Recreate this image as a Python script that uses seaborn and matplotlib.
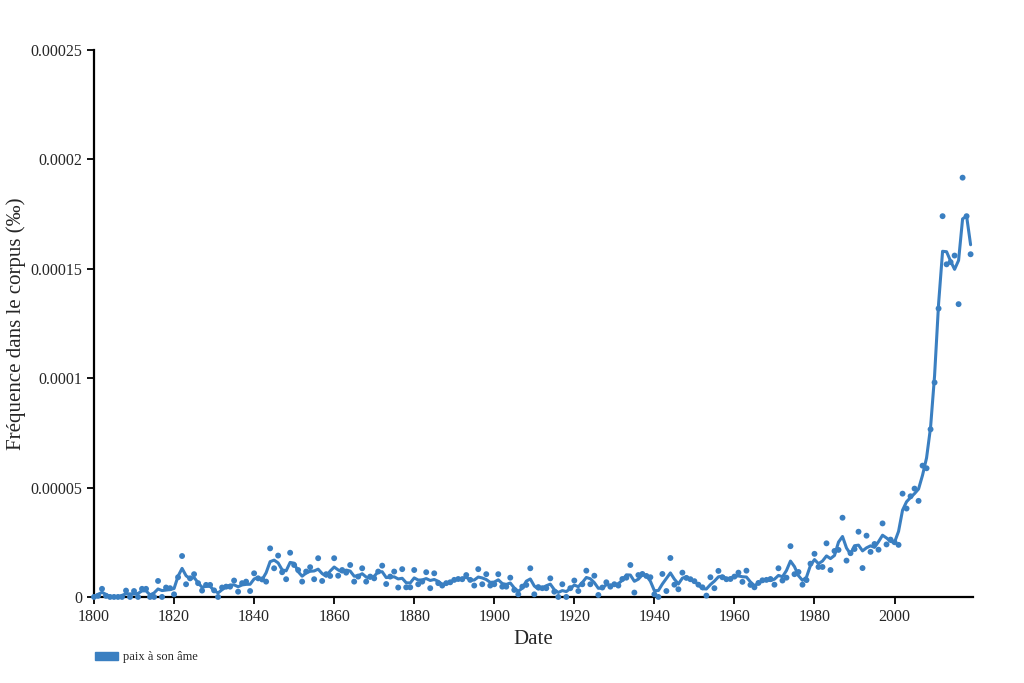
import numpy as np
import pandas as pd
import matplotlib
matplotlib.use('Agg')
import matplotlib.pyplot as plt
import seaborn as sns
from matplotlib.patches import Patch

# Fréquence annuelle de "paix à son âme" (en unités de 1e-5 ‰), 1800 -> 2019
years = list(range(1800, 2020))
freq_e5 = [
    0, 0.05, 0.37, 0.05, 0, 0, 0, 0, 0.29, 0,                    # 1800s
    0.27, 0, 0.37, 0.37, 0, 0, 0.73, 0, 0.43, 0.40,              # 1810s
    0.12, 0.90, 1.87, 0.58, 0.85, 1.04, 0.63, 0.29, 0.55, 0.55,  # 1820s
    0.30, 0, 0.43, 0.47, 0.47, 0.75, 0.24, 0.63, 0.70, 0.27,     # 1830s
    1.08, 0.85, 0.80, 0.70, 2.22, 1.31, 1.89, 1.13, 0.81, 2.02,  # 1840s
    1.46, 1.23, 0.70, 1.16, 1.36, 0.81, 1.77, 0.73, 1.04, 0.96,  # 1850s
    1.77, 0.97, 1.23, 1.11, 1.46, 0.70, 0.93, 1.31, 0.70, 0.93,  # 1860s
    0.85, 1.16, 1.43, 0.59, 0.93, 1.16, 0.43, 1.27, 0.44, 0.44,  # 1870s
    1.23, 0.58, 0.70, 1.13, 0.40, 1.08, 0.63, 0.52, 0.63, 0.67,  # 1880s
    0.78, 0.82, 0.81, 1.00, 0.78, 0.52, 1.27, 0.58, 1.04, 0.52,  # 1890s
    0.58, 1.04, 0.47, 0.47, 0.88, 0.32, 0.12, 0.47, 0.55, 1.31,  # 1900s
    0.12, 0.45, 0.40, 0.40, 0.85, 0.24, 0, 0.58, 0, 0.40,        # 1910s
    0.75, 0.27, 0.58, 1.20, 0.58, 0.97, 0.09, 0.43, 0.67, 0.47,  # 1920s
    0.58, 0.52, 0.82, 0.88, 1.46, 0.20, 1.00, 1.05, 0.96, 0.90,  # 1930s
    0.12, 0, 1.05, 0.27, 1.78, 0.56, 0.35, 1.11, 0.87, 0.81,     # 1940s
    0.72, 0.56, 0.44, 0.06, 0.90, 0.40, 1.19, 0.90, 0.81, 0.82,  # 1950s
    0.93, 1.11, 0.69, 1.20, 0.55, 0.44, 0.64, 0.76, 0.78, 0.82,  # 1960s
    0.56, 1.31, 0.75, 0.88, 2.32, 1.04, 1.14, 0.56, 0.77, 1.52,  # 1970s
    1.97, 1.37, 1.37, 2.45, 1.23, 2.10, 2.15, 3.62, 1.66, 2.00,  # 1980s
    2.19, 2.98, 1.32, 2.80, 2.06, 2.42, 2.16, 3.36, 2.40, 2.62,  # 1990s
    2.50, 2.38, 4.72, 4.04, 4.60, 4.95, 4.39, 6.00, 5.88, 7.66,  # 2000s
    9.80, 13.18, 17.40, 15.20, 15.30, 15.60, 13.38, 19.16, 17.40, 15.66,  # 2010s
]

y_ticks = [0, 0.00005, 0.0001, 0.00015, 0.0002, 0.00025]
y_tick_labels = ['0', '0.00005', '0.0001', '0.00015', '0.0002', '0.00025']
x_ticks = list(range(1800, 2001, 20))
label = 'paix à son âme'
color = '#3a7fc1'

df = pd.DataFrame({'Date': years, 'Frequence': np.array(freq_e5) * 1e-5})
# courbe lissée : moyenne pondérée (1-2-1) sur les années voisines
s = df['Frequence']
prev = s.shift(1).fillna(s)
nxt = s.shift(-1).fillna(s)
df['Lisse'] = (prev + 2 * s + nxt) / 4

sns.set_style('ticks')
plt.rcParams['font.family'] = ['Liberation Serif', 'DejaVu Serif']

fig = plt.figure(figsize=(10.24, 6.83), dpi=100)
ax = fig.add_axes([0.0918, 0.126, 0.858, 0.801])

sns.lineplot(data=df, x='Date', y='Lisse', color=color, linewidth=2.2, ax=ax)
sns.scatterplot(data=df, x='Date', y='Frequence', color=color, s=18,
                edgecolor='none', ax=ax, zorder=3, clip_on=False)

ax.set_xlim(1800, 2019.5)
ax.set_ylim(0, 0.00025)
ax.set_xticks(x_ticks)
ax.set_yticks(y_ticks)
ax.set_yticklabels(y_tick_labels)
ax.tick_params(axis='both', labelsize=11.5, length=5, width=1.3, color='black', direction='out')
sns.despine(ax=ax)
for sp in ['left', 'bottom']:
    ax.spines[sp].set_color('black')
    ax.spines[sp].set_linewidth(1.6)

ax.set_xlabel('Date', fontsize=15)
ax.set_ylabel('Fréquence dans le corpus (‰)', fontsize=15, labelpad=3)

fig.legend(handles=[Patch(color=color, label=label)], loc='center left',
           bbox_to_anchor=(0.082, 0.038), frameon=False, fontsize=9,
           handlelength=1.8, handleheight=0.6, handletextpad=0.4)

fig.savefig('out.png', dpi=100)
